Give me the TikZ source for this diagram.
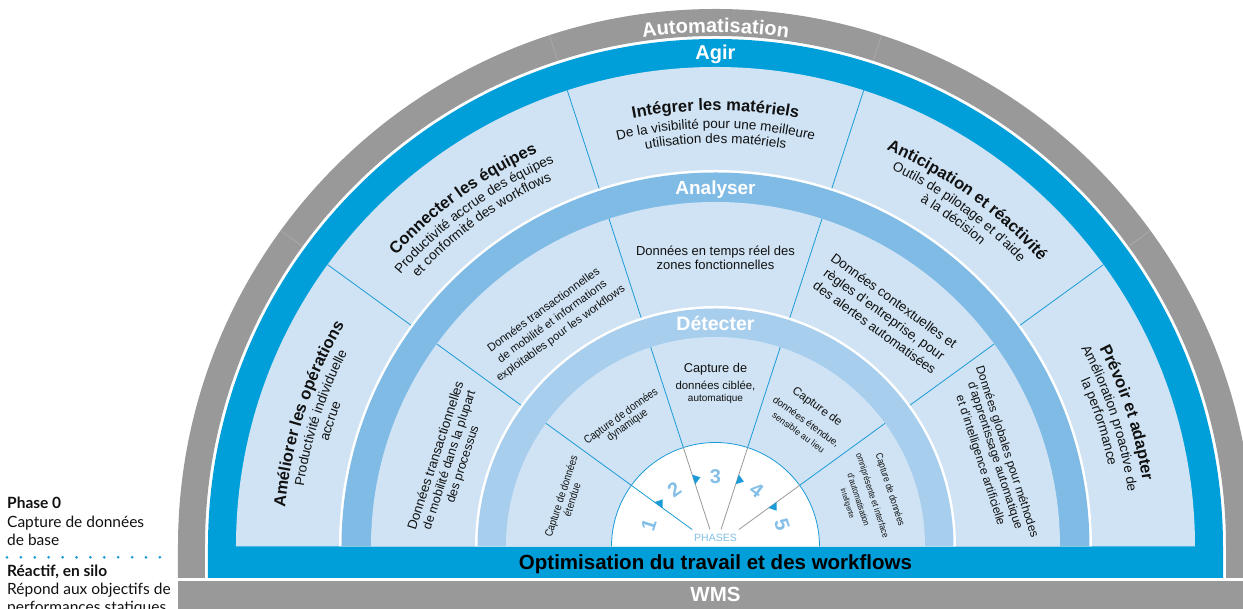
\documentclass[tikz,border=0pt]{standalone}
\usepackage{fontspec}
\setmainfont{Liberation Sans}
\newfontfamily\legendfont{Lato}
\newfontfamily\narrowfont[FakeStretch=0.85]{Liberation Sans}
\usetikzlibrary{decorations.text}
\definecolor{cGrey}{HTML}{999999}
\definecolor{cSepG}{HTML}{ADADAD}
\definecolor{cBlue}{HTML}{009FDA}
\definecolor{cLight}{HTML}{CFE3F4}
\definecolor{cMid}{HTML}{80BBE6}
\definecolor{cDet}{HTML}{A8CEEE}
\definecolor{cLine}{HTML}{1B9BD7}
\definecolor{cNum}{HTML}{84BFE8}
\definecolor{cText}{HTML}{111111}
% straight line of text: name, angle, baseline radius, size, font style, text
\newcommand\tline[6]{%
  \node[tl,font=#5\fontsize{#4}{#4}\selectfont,rotate=#2-90] (#1) at (#2:#3pt) {#6};}
% curved line of text: angle, baseline radius, size, style, text
\newcommand\arcline[5]{%
  \path[decorate,decoration={text along path,text align=center,
    text={|\color{cText}#4\fontsize{#3}{#3}\selectfont|#5}}]
    (#1+40:#2pt) arc[start angle=#1+40,end angle=#1-40,radius=#2pt];}
\newcommand\halfdisc[2]{\fill[#1] (-#2pt,0pt) arc[start angle=180,end angle=0,radius=#2pt] -- cycle;}
\tikzset{
  tl/.style={text=cText,anchor=base,inner sep=0pt},
  ringlabel/.style={text=white,anchor=base,inner sep=0pt},
  sepline/.style={cLine,line width=0.8pt},
  phline/.style={cGrey,line width=0.8pt},
  numlabel/.style={text=cNum,font=\bfseries\fontsize{20}{20}\selectfont,inner sep=0pt},
  legtext/.style={text=cText,anchor=base west,inner sep=0pt,font=\legendfont\fontsize{15.5}{15.5}\selectfont},
  legbold/.style={legtext,font=\legendfont\bfseries\fontsize{15.5}{15.5}\selectfont},
  barlabel/.style={anchor=base,inner sep=0pt,font=\bfseries\fontsize{20.5}{20.5}\selectfont}
}
\begin{document}
\begin{tikzpicture}
\useasboundingbox (-715.5pt,-62.5pt) rectangle (527.5pt,546.5pt);
% grey outer ring with legs
\fill[cGrey] (-537.5pt,-31.5pt) -- (-537.5pt,0pt) arc[start angle=180,end angle=0,radius=537.5pt]
  -- (537.5pt,-31.5pt) -- (510.5pt,-31.5pt) -- (510.5pt,0pt)
  arc[start angle=0,end angle=180,radius=510.5pt] -- (-510.5pt,-31.5pt) -- cycle;
\foreach \a in {36,72,108,144} \draw[cSepG,line width=0.6pt] (\a:510.5pt) -- (\a:537.5pt);
% WMS bar
\fill[cGrey] (-537.5pt,-34.5pt) rectangle (545pt,-75pt);
% blue ring and bar
\fill[cBlue] (-507.5pt,-31.5pt) -- (-507.5pt,0pt) arc[start angle=180,end angle=0,radius=507.5pt]
  -- (507.5pt,-31.5pt) -- cycle;
\halfdisc{cLight}{479.5}
\halfdisc{white}{376.5}
\halfdisc{cMid}{374}
\halfdisc{cLight}{344.5}
\halfdisc{white}{240.5}
\halfdisc{cDet}{238}
\halfdisc{cLight}{209.5}
\halfdisc{white}{104}
\draw[cLine,line width=0.8pt] (-104pt,0pt) arc[start angle=180,end angle=0,radius=104pt];
% sector dividers
\foreach \a in {36,72,108,144} {
  \draw[sepline] (\a:376.5pt) -- (\a:479.5pt);
  \draw[sepline] (\a:240.5pt) -- (\a:344.5pt);
  \draw[sepline] (\a:104pt) -- (\a:209.5pt);
}
% phase dial lines
\draw[sepline] (144:104pt) -- (144:28.9pt);
\draw[phline] (108:104pt) -- (108:17.9pt);
\draw[phline] (72:104pt) -- (72:17.9pt);
\draw[phline] (36:104pt) -- (36:28.9pt);
\foreach \a in {36,72,108,144}
  \fill[cLine] (\a:65.5pt) -- (\a:75.5pt) -- ([shift={(\a-90:7pt)}]\a:70.5pt) -- cycle;
% phase numbers
\node[numlabel,rotate=72] (n1) at (162:70pt) {1};
\node[numlabel,rotate=36] (n2) at (126:70pt) {2};
\node[numlabel] (n3) at (90:70pt) {3};
\node[numlabel,rotate=-36] (n4) at (54:70pt) {4};
\node[numlabel,rotate=-72] (n5) at (18:70pt) {5};
\node[text=cNum,inner sep=0pt,font=\fontsize{10.5}{10.5}\selectfont] (phases) at (0pt,8.3pt) {PHASES};
% ring labels
\arcline{90}{514}{20}{\color{white}\bfseries}{Automatisation}
\node[ringlabel,font=\bfseries\fontsize{20}{20}\selectfont] (agir) at (0pt,487pt) {Agir};
\node[ringlabel,font=\bfseries\fontsize{19}{19}\selectfont] (analyser) at (0pt,351.5pt) {Analyser};
\node[ringlabel,font=\bfseries\fontsize{19.5}{19.5}\selectfont] (detecter) at (0pt,216pt) {Détecter};
% outer sectors (curved)
\arcline{162}{432}{16.5}{\bfseries}{Améliorer les opérations}
\arcline{162}{416}{13.5}{}{Productivité individuelle}
\arcline{162}{401}{13.5}{}{accrue}
\arcline{126}{432}{16.5}{\bfseries}{Connecter les équipes}
\arcline{126}{416}{13.5}{}{Productivité accrue des équipes}
\arcline{126}{401}{13.5}{}{et conformité des workflows}
\arcline{90}{436}{16.5}{\bfseries}{Intégrer les matériels}
\arcline{90}{418}{13.5}{}{De la visibilité pour une meilleure}
\arcline{90}{403.5}{13.5}{}{utilisation des matériels}
\arcline{54}{432}{16.5}{\bfseries}{Anticipation et réactivité}
\arcline{54}{416}{13.5}{}{Outils de pilotage et d'aide}
\arcline{54}{401}{13.5}{}{à la décision}
\arcline{18}{432}{16.5}{\bfseries}{Prévoir et adapter}
\arcline{18}{416}{13.5}{}{Amélioration proactive de}
\arcline{18}{401}{13.5}{}{la performance}
% analyser sectors
\tline{a1a}{162}{290}{13.2}{}{Données transactionnelles}
\tline{a1b}{162}{276}{12.5}{}{de mobilité dans la plupart}
\tline{a1c}{162}{262}{12.5}{}{des processus}
\tline{a2a}{126}{289}{11.5}{}{Données transactionnelles}
\tline{a2b}{126}{274.5}{11.3}{}{de mobilité et informations}
\tline{a2c}{126}{260}{11.3}{}{exploitables pour les workflows}
\tline{a3a}{90}{291}{13}{}{Données en temps réel des}
\tline{a3b}{90}{277}{13}{}{zones fonctionnelles}
\tline{a4a}{54}{299}{13.5}{}{Données contextuelles et}
\tline{a4b}{54}{282.5}{13.5}{}{règles d'entreprise, pour}
\tline{a4c}{54}{266}{13.3}{}{des alertes automatisées}
\tline{a5a}{18}{303}{12}{}{Données globales pour méthodes}
\tline{a5b}{18}{290.5}{12}{}{d'apprentissage automatique}
\tline{a5c}{18}{275}{12}{}{et d'intelligence artificielle}
% detecter sectors
\tline{d1a}{162}{158.5}{11}{\narrowfont}{Capture de données}
\tline{d1b}{162}{147}{11}{\narrowfont}{étendue}
\tline{d2a}{126}{157.5}{11.4}{\narrowfont}{Capture de données}
\tline{d2b}{126}{146.5}{11.4}{\narrowfont}{dynamique}
\tline{d3a}{90}{173.5}{12.8}{}{Capture de}
\tline{d3b}{90}{157}{11.4}{}{données ciblée,}
\tline{d3c}{90}{144.5}{10}{}{automatique}
\tline{d4a}{54}{169.5}{11.8}{}{Capture de}
\tline{d4b}{54}{151}{9.9}{}{données étendue,}
\tline{d4c}{54}{138}{9}{}{sensible au lieu}
\tline{d5a}{18}{180.5}{9.8}{\narrowfont}{Capture de données}
\tline{d5b}{18}{162}{9.2}{\narrowfont}{omniprésente et interface}
\tline{d5c}{18}{147.5}{8.9}{\narrowfont}{d'automatisation}
\tline{d5d}{18}{136.5}{7.6}{\narrowfont}{intelligente}
% bars
\node[barlabel,text=black] (opt) at (0pt,-23.5pt) {Optimisation du travail et des workflows};
\node[barlabel,text=white] (wms) at (0pt,-55.2pt) {WMS};
% legend
\node[legbold] (l1) at (-708.5pt,38.2pt) {Phase 0};
\node[legtext] (l2) at (-708.5pt,18.5pt) {Capture de données};
\node[legtext] (l3) at (-708.5pt,1pt) {de base};
\foreach \i in {0,...,11} \fill[cLine] (-708.5pt+\i*13.9pt,-10.8pt) circle[radius=1.5pt];
\node[legbold] (l4) at (-708.5pt,-30.2pt) {Réactif, en silo};
\node[legtext] (l5) at (-708.5pt,-48.5pt) {Répond aux objectifs de};
\node[legtext] (l6) at (-708.5pt,-66.5pt) {performances statiques};
\end{tikzpicture}
\end{document}
